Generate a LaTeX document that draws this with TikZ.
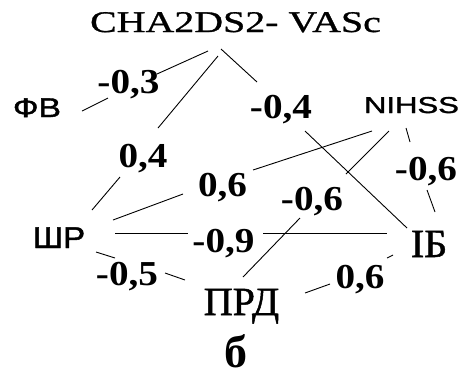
\documentclass[tikz,border=0pt]{standalone}
\usepackage{fontspec}
\setmainfont{Liberation Serif}
\newfontfamily\titlefont[FakeStretch=1.33,FakeBold=1]{Liberation Serif}
\newfontfamily\heavyserif[FakeBold=1.2]{Liberation Serif}
\newfontfamily\numfont[FakeStretch=1.12]{Liberation Serif}
\newfontfamily\sansA[FakeStretch=1.1,FakeBold=1.5]{Liberation Sans}
\newfontfamily\sansW[FakeStretch=1.25,FakeBold=1.5]{Liberation Sans}
\newfontfamily\sansB[FakeStretch=1.35,FakeBold=1.5]{Liberation Sans}

\tikzset{
  txt/.style={inner sep=0pt, anchor=base, text depth=0pt},
  coef/.style={txt, font=\numfont\bfseries\fontsize{35pt}{35pt}\selectfont},
  serifbig/.style={txt, font=\heavyserif\fontsize{40pt}{40pt}\selectfont},
  edge/.style={line width=0.9pt, black}
}

\begin{document}
\begin{tikzpicture}[x=1pt, y=-1pt]
\useasboundingbox (0,0) rectangle (465,376);

% variables
\node[txt, font=\titlefont\fontsize{30pt}{30pt}\selectfont] (cha) at (235.5,32) {CHA2DS2- VASc};
\node[txt, font=\sansW\fontsize{27pt}{27pt}\selectfont] (fv) at (37,117) {ФВ};
\node[txt, font=\sansB\fontsize{23pt}{23pt}\selectfont] (nihss) at (411.5,113) {NIHSS};
\node[txt, font=\sansA\fontsize{30pt}{30pt}\selectfont] (shr) at (59,248) {ШР};
\node[serifbig] (ib) at (429,257) {ІБ};
\node[serifbig] (prd) at (241.5,315) {ПРД};
\node[txt, font=\rmfamily\bfseries\fontsize{46pt}{46pt}\selectfont] (cap) at (235.5,367) {б};

% correlation coefficients
\node[coef] (k1) at (128.5,93) {-0,3};
\node[coef] (k2) at (143,167) {0,4};
\node[coef] (k3) at (281,118) {-0,4};
\node[coef] (k4) at (222.5,196) {0,6};
\node[coef] (k5) at (312,210) {-0,6};
\node[coef] (k6) at (426,180) {-0,6};
\node[coef] (k7) at (223.5,252) {-0,9};
\node[coef] (k8) at (127,285) {-0,5};
\node[coef] (k9) at (360,288) {0,6};

% end points of the connector pieces
\coordinate (a1) at (208,51);  \coordinate (a2) at (157,74);
\coordinate (a3) at (108,98);  \coordinate (a4) at (82,111);
\coordinate (b1) at (218,56);  \coordinate (b2) at (158,128);
\coordinate (b3) at (120,177); \coordinate (b4) at (92,210);
\coordinate (c1) at (221,49);  \coordinate (c2) at (257,82);
\coordinate (c3) at (305,131); \coordinate (c4) at (407,228);
\coordinate (d1) at (372,131); \coordinate (d2) at (253,170);
\coordinate (d3) at (183,194); \coordinate (d4) at (113,220);
\coordinate (e1) at (389,131); \coordinate (e2) at (346,174);
\coordinate (e3) at (300,218); \coordinate (e4) at (243,277);
\coordinate (f1) at (406,128); \coordinate (f2) at (410,142);
\coordinate (f3) at (427,190); \coordinate (f4) at (435,212);
\coordinate (g1) at (115,233); \coordinate (g2) at (188,233);
\coordinate (g3) at (263,233); \coordinate (g4) at (387,233);
\coordinate (h1) at (96,252);  \coordinate (h2) at (115,258);
\coordinate (h3) at (165,273); \coordinate (h4) at (185,280);
\coordinate (i1) at (305,293); \coordinate (i2) at (330,284);
\coordinate (i3) at (387,258); \coordinate (i4) at (393,255);

% connectors, each broken by its coefficient
\draw[edge] (a1) -- (a2);  \draw[edge] (a3) -- (a4);
\draw[edge] (b1) -- (b2);  \draw[edge] (b3) -- (b4);
\draw[edge] (c1) -- (c2);  \draw[edge] (c3) -- (c4);
\draw[edge] (d1) -- (d2);  \draw[edge] (d3) -- (d4);
\draw[edge] (e1) -- (e2);  \draw[edge] (e3) -- (e4);
\draw[edge] (f1) -- (f2);  \draw[edge] (f3) -- (f4);
\draw[edge] (g1) -- (g2);  \draw[edge] (g3) -- (g4);
\draw[edge] (h1) -- (h2);  \draw[edge] (h3) -- (h4);
\draw[edge] (i1) -- (i2);  \draw[edge] (i3) -- (i4);
\end{tikzpicture}
\end{document}
